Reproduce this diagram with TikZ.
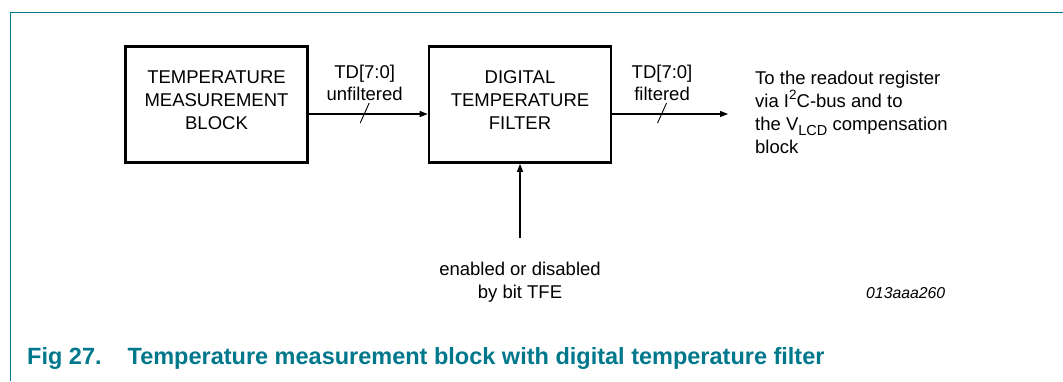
\documentclass[tikz,border=0pt]{standalone}
\usepackage{fontspec}
\setmainfont{Liberation Sans}
\usetikzlibrary{arrows.meta,positioning}

\definecolor{figteal}{RGB}{0,120,140}
\newcommand{\lowtxt}[1]{\raisebox{-0.28em}{\fontsize{14.5}{14.5}\selectfont #1}}
\newcommand{\hightxt}[1]{\raisebox{0.42em}{\fontsize{13.5}{13.5}\selectfont #1}}

\tikzset{
    blockbox/.style={draw, line width=2.6pt, minimum width=182pt, minimum height=116pt,
        align=center, font=\fontsize{18.5}{23}\selectfont, text depth=8pt},
    busarrow/.style={line width=1.2pt, -{Triangle[length=8pt,width=6pt]}},
    buslabel/.style={align=center, font=\fontsize{18.5}{22}\selectfont, inner sep=0pt}
}

\begin{document}
\begin{tikzpicture}[x=1pt, y=-1pt]
    \useasboundingbox (0,0) rectangle (1063,381);

    % Figure frame
    \draw[figteal, line width=1.6pt] (10.5,381) -- (10.5,12.5) -- (1063,12.5);

    % Blocks
    \node[blockbox] (tmb) at (216.5,104.5) {TEMPERATURE\\MEASUREMENT\\BLOCK};
    \node[blockbox] (dtf) at (520,104.5) {DIGITAL\\TEMPERATURE\\FILTER};

    % Bus from measurement block to filter
    \draw[busarrow] ([yshift=-9.5pt]tmb.east) -- coordinate[pos=0.47] (cut1) ([yshift=-9.5pt]dtf.west);
    \draw[line width=0.9pt] (cut1) ++(-4.5,9) -- ++(9,-20);
    \node[buslabel, above=13pt of cut1] (unf) {TD[7:0]\\unfiltered};

    % Bus out of the filter
    \coordinate (outend) at (728,114);
    \draw[busarrow] ([yshift=-9.5pt]dtf.east) -- coordinate[pos=0.43] (cut2) (outend);
    \draw[line width=0.9pt] (cut2) ++(-4.5,9) -- ++(9,-20);
    \node[buslabel, above=13pt of cut2] (filt) {TD[7:0]\\filtered};

    \node[buslabel, anchor=north west, align=left, font=\fontsize{18.5}{23}\selectfont] (dest) at (755,71)
        {To the readout register\\via I\hightxt{2}C-bus and to\\the V\lowtxt{LCD} compensation\\block};

    % Enable input
    \node[buslabel, anchor=north, font=\fontsize{18.5}{23}\selectfont] (tfe) at (520,262) {enabled or disabled\\by bit TFE};
    \draw[busarrow, shorten <=24pt] (tfe.north) -- (dtf.south);

    \node[anchor=base west, inner sep=0pt, font=\itshape\fontsize{15.8}{15.8}\selectfont] (figid) at (866,298) {013aaa260};

    % Caption
    \node[anchor=base west, inner sep=0pt, text=figteal, font=\bfseries\fontsize{23.5}{23.5}\selectfont] (caption) at (27,364)
        {Fig 27.\hspace*{26pt}Temperature measurement block with digital temperature filter};
\end{tikzpicture}
\end{document}
